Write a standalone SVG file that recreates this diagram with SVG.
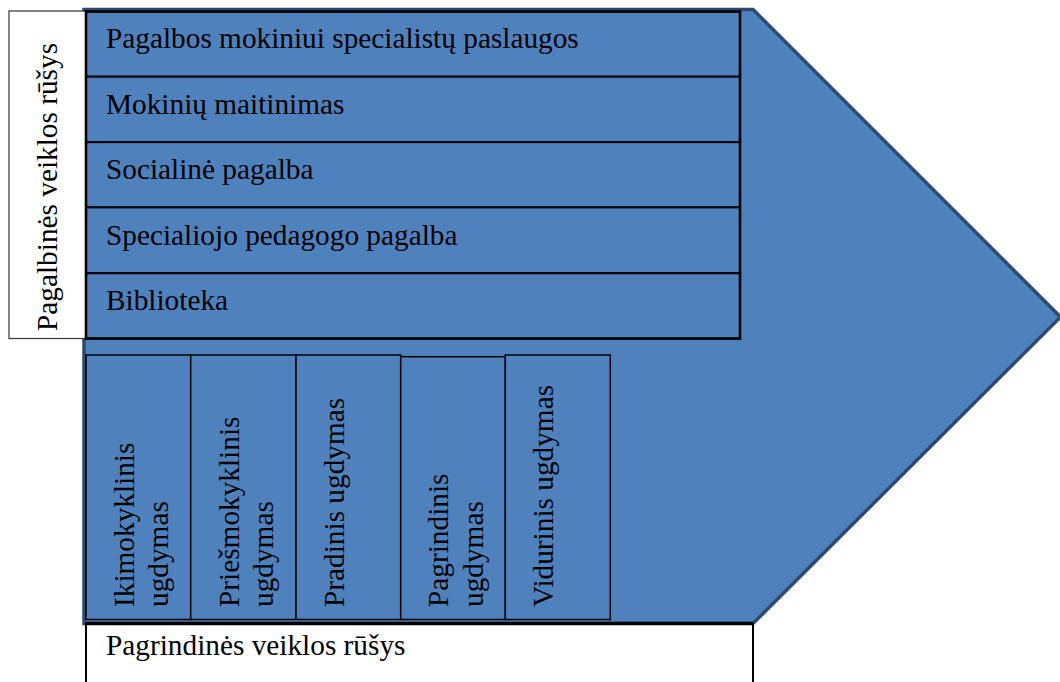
<svg xmlns="http://www.w3.org/2000/svg" width="1060" height="682" viewBox="0 0 1060 682">
  <style>
    .t { font-family: "Liberation Serif", "Times New Roman", serif; font-size: 29.3px; fill: #000; }
    .row { fill: #4F81BD; stroke: #000; stroke-width: 2; }
    .col { fill: #4F81BD; stroke: #000; stroke-width: 1.5; }
  </style>

  <!-- large chevron background -->
  <g id="chevron">
    <polygon points="84,9.5 753,9.5 1060.5,317 753,623.5 84,623.5" fill="#4F81BD" stroke="#2C4A70" stroke-width="3.5" stroke-linejoin="miter"/>
  </g>

  <!-- side label for support activities -->
  <g id="support-label">
    <rect x="9" y="11" width="77" height="327.5" fill="#fff" stroke="#333" stroke-width="1.2"/>
    <text class="t" transform="translate(57,331) rotate(-90)">Pagalbinės veiklos rūšys</text>
  </g>

  <!-- support activity rows -->
  <g id="row-1">
    <rect class="row" x="86" y="11.5" width="654" height="65.2"/>
    <text class="t" x="106" y="48">Pagalbos mokiniui specialistų paslaugos</text>
  </g>
  <g id="row-2">
    <rect class="row" x="86" y="76.7" width="654" height="65.5"/>
    <text class="t" x="106" y="113.5">Mokinių maitinimas</text>
  </g>
  <g id="row-3">
    <rect class="row" x="86" y="142.2" width="654" height="65.2"/>
    <text class="t" x="106" y="179">Socialinė pagalba</text>
  </g>
  <g id="row-4">
    <rect class="row" x="86" y="207.4" width="654" height="65.9"/>
    <text class="t" x="106" y="244.5">Specialiojo pedagogo pagalba</text>
  </g>
  <g id="row-5">
    <rect class="row" x="86" y="273.3" width="654" height="65.2"/>
    <text class="t" x="106" y="310">Biblioteka</text>
  </g>
  <!-- heavier outline around the row block -->
  <rect x="86" y="11.5" width="654" height="327" fill="none" stroke="#000" stroke-width="2.6"/>

  <!-- primary activity columns -->
  <g id="col-1">
    <rect class="col" x="86" y="355" width="104.7" height="264.5"/>
    <text class="t" transform="translate(134,607) rotate(-90)">Ikimokyklinis</text>
    <text class="t" transform="translate(168,607) rotate(-90)">ugdymas</text>
  </g>
  <g id="col-2">
    <rect class="col" x="190.7" y="355" width="105.3" height="264.5"/>
    <text class="t" transform="translate(239,607) rotate(-90)">Priešmokyklinis</text>
    <text class="t" transform="translate(273,607) rotate(-90)">ugdymas</text>
  </g>
  <g id="col-3">
    <rect class="col" x="296" y="355" width="104.7" height="264.5"/>
    <text class="t" transform="translate(344,607) rotate(-90)">Pradinis ugdymas</text>
  </g>
  <g id="col-4">
    <rect class="col" x="400.7" y="356.7" width="104.6" height="262.8"/>
    <text class="t" transform="translate(448,607) rotate(-90)">Pagrindinis</text>
    <text class="t" transform="translate(483,607) rotate(-90)">ugdymas</text>
  </g>
  <g id="col-5">
    <rect class="col" x="505.3" y="355" width="105" height="264.5"/>
    <text class="t" transform="translate(553,607) rotate(-90)">Vidurinis ugdymas</text>
  </g>

  <!-- bottom label for primary activities -->
  <g id="primary-label">
    <rect x="86" y="623.5" width="667" height="70" fill="#fff" stroke="#000" stroke-width="2"/>
    <line x1="86" y1="623.5" x2="753" y2="623.5" stroke="#000" stroke-width="3.5"/>
    <text class="t" x="106" y="655">Pagrindinės veiklos rūšys</text>
  </g>

  <g id="connectors"></g>
</svg>
